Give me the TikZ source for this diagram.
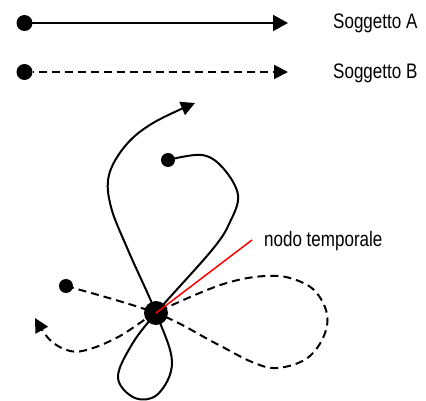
\documentclass[tikz,border=0pt]{standalone}
\usepackage{fontspec}
\setmainfont{Liberation Sans}[FakeStretch=0.81]
\usetikzlibrary{arrows.meta}
\tikzset{
  traj/.style={line width=2pt, line cap=butt, line join=round},
  dashtraj/.style={traj, dash pattern=on 8pt off 5pt},
  bigdot/.style={circle, fill=black, inner sep=0pt, minimum size=#1},
  lbl/.style={anchor=base west, inner sep=0pt, font=\fontsize{21}{25}\selectfont},
  tipA/.style={-{Triangle[length=15pt,width=16pt]}},
  tipB/.style={-{Triangle[length=14pt,width=14pt]}}
}
\begin{document}
\begin{tikzpicture}[x=1pt,y=-1pt]
\useasboundingbox (0,0) rectangle (426,401);
% legend
\node[bigdot=16pt] (la) at (24.5,23) {};
\coordinate (laend) at (288,23);
\draw[traj, tipA] (la.center) -- (laend);
\node[lbl] (ta) at (333,29) {Soggetto A};
\node[bigdot=16pt] (lb) at (24.5,72) {};
\coordinate (lbend) at (288,72);
\draw[dashtraj, tipB, dash phase=-6pt] (lb.east) -- (lbend);
\node[lbl] (tb) at (333,79) {Soggetto B};
% trajectories
\node[bigdot=24pt] (c) at (156,313) {};
\node[bigdot=14pt] (sa) at (168,160) {};
\node[bigdot=14pt] (sb) at (66,286) {};
\draw[traj, tipB] plot[smooth, tension=0.6] coordinates {
  (168,160) (202,155) (223,168) (238,195) (230,222) (212,250)
  (156,313) (131,346) (118,378) (135,398) (158,394) (172,362)
  (156,313) (128,250) (111,207) (109,175) (126,145) (153,123) (195,103)};
\draw[dashtraj, tipB] plot[smooth, tension=0.6] coordinates {
  (66,286) (156,313) (215,343) (252,362) (277,368) (306,359)
  (323,338) (327,314) (314,290) (290,278) (266,276) (238,280)
  (207,290) (156,313) (120,336) (90,349) (70,351) (50,340) (35,318)};
% red pointer
\coordinate (rp) at (252,240);
\draw[red, line width=1.5pt] (c.center) -- (rp);
\node[lbl] (tn) at (264,246) {nodo temporale};
\end{tikzpicture}
\end{document}
